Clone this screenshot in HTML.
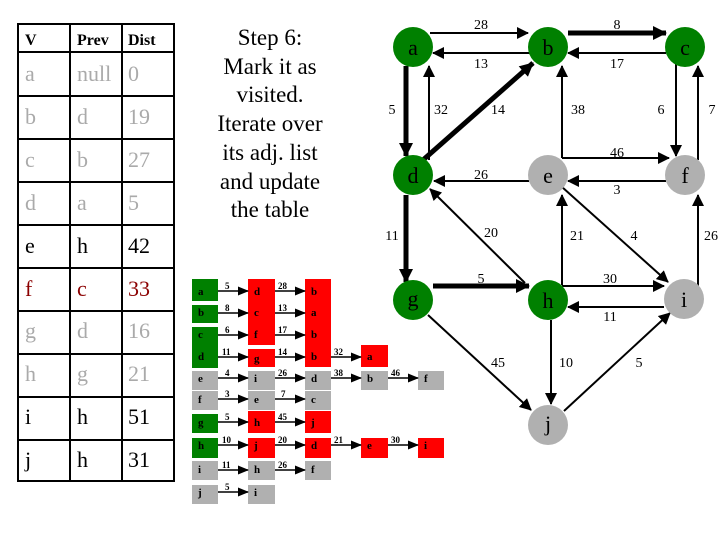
<!DOCTYPE html>
<html><head><meta charset="utf-8"><style>
body{margin:0;background:#fff;width:720px;height:540px;overflow:hidden}
svg{display:block}
text{font-family:"Liberation Serif",serif}
</style></head><body>
<svg width="720" height="540" viewBox="0 0 720 540" xmlns="http://www.w3.org/2000/svg">
<defs>
<marker id="ah" markerWidth="12" markerHeight="12" refX="11" refY="6" orient="auto" markerUnits="userSpaceOnUse"><path d="M0,0 L12,6 L0,12 z" fill="#000"/></marker>
<marker id="ahb" markerWidth="14" markerHeight="14" refX="13" refY="7" orient="auto" markerUnits="userSpaceOnUse"><path d="M0,0 L14,7 L0,14 z" fill="#000"/></marker>
<marker id="as" markerWidth="11" markerHeight="9" refX="10" refY="4.5" orient="auto" markerUnits="userSpaceOnUse"><path d="M0,0 L11,4.5 L0,9 z" fill="#000"/></marker>
</defs>

<!-- Table -->
<g stroke="#000" stroke-width="2" fill="none">
<rect x="18" y="24" width="156" height="457"/>
<line x1="70" y1="24" x2="70" y2="481"/><line x1="122" y1="24" x2="122" y2="481"/>
<line x1="18" y1="52" x2="174" y2="52"/><line x1="18" y1="96" x2="174" y2="96"/>
<line x1="18" y1="139" x2="174" y2="139"/><line x1="18" y1="182" x2="174" y2="182"/>
<line x1="18" y1="225" x2="174" y2="225"/><line x1="18" y1="268" x2="174" y2="268"/>
<line x1="18" y1="311" x2="174" y2="311"/><line x1="18" y1="354" x2="174" y2="354"/>
<line x1="18" y1="397" x2="174" y2="397"/><line x1="18" y1="440" x2="174" y2="440"/>
</g>
<g font-size="16" font-weight="bold"><text x="25" y="45">V</text><text x="77" y="45">Prev</text><text x="128" y="45">Dist</text></g>
<g font-size="22">
<g fill="#aaa"><text x="25" y="81">a</text><text x="77" y="81">null</text><text x="128" y="81">0</text>
<text x="25" y="124">b</text><text x="77" y="124">d</text><text x="128" y="124">19</text>
<text x="25" y="167">c</text><text x="77" y="167">b</text><text x="128" y="167">27</text>
<text x="25" y="210">d</text><text x="77" y="210">a</text><text x="128" y="210">5</text>
<text x="25" y="338">g</text><text x="77" y="338">d</text><text x="128" y="338">16</text>
<text x="25" y="381">h</text><text x="77" y="381">g</text><text x="128" y="381">21</text></g>
<text x="25" y="253">e</text><text x="77" y="253">h</text><text x="128" y="253">42</text>
<g fill="#8b0000"><text x="25" y="296">f</text><text x="77" y="296">c</text><text x="128" y="296">33</text></g>
<text x="25" y="424">i</text><text x="77" y="424">h</text><text x="128" y="424">51</text>
<text x="25" y="467">j</text><text x="77" y="467">h</text><text x="128" y="467">31</text>
</g>

<!-- Step text -->
<g font-size="23" text-anchor="middle">
<text x="270" y="45">Step 6:</text><text x="270" y="74">Mark it as</text><text x="270" y="102">visited.</text>
<text x="270" y="131">Iterate over</text><text x="270" y="160">its adj. list</text>
<text x="270" y="189">and update</text><text x="270" y="217">the table</text>
</g>

<!-- Adjacency list -->
<g>
<rect x="192" y="279" width="26" height="22" fill="#008000"/>
<rect x="192" y="305" width="26" height="18" fill="#008000"/>
<rect x="192" y="327" width="26" height="41" fill="#008000"/>
<rect x="192" y="371" width="26" height="19" fill="#b0b0b0"/>
<rect x="192" y="391" width="26" height="19" fill="#b0b0b0"/>
<rect x="192" y="414" width="26" height="19" fill="#008000"/>
<rect x="192" y="438" width="26" height="20" fill="#008000"/>
<rect x="192" y="461" width="26" height="19" fill="#b0b0b0"/>
<rect x="192" y="485" width="26" height="19" fill="#b0b0b0"/>
<rect x="248" y="279" width="27" height="66" fill="#f00"/>
<rect x="248" y="349" width="27" height="18" fill="#f00"/>
<rect x="248" y="371" width="27" height="19" fill="#b0b0b0"/>
<rect x="248" y="391" width="27" height="19" fill="#b0b0b0"/>
<rect x="248" y="411" width="27" height="22" fill="#f00"/>
<rect x="248" y="438" width="27" height="20" fill="#f00"/>
<rect x="248" y="461" width="27" height="19" fill="#b0b0b0"/>
<rect x="248" y="485" width="27" height="19" fill="#b0b0b0"/>
<rect x="305" y="279" width="26" height="88" fill="#f00"/>
<rect x="305" y="371" width="26" height="19" fill="#b0b0b0"/>
<rect x="305" y="391" width="26" height="19" fill="#b0b0b0"/>
<rect x="305" y="411" width="26" height="22" fill="#f00"/>
<rect x="305" y="438" width="26" height="20" fill="#f00"/>
<rect x="305" y="461" width="26" height="19" fill="#b0b0b0"/>
<rect x="361" y="345" width="27" height="22" fill="#f00"/>
<rect x="361" y="371" width="27" height="19" fill="#b0b0b0"/>
<rect x="361" y="438" width="27" height="20" fill="#f00"/>
<rect x="418" y="371" width="26" height="19" fill="#b0b0b0"/>
<rect x="418" y="438" width="26" height="20" fill="#f00"/>
</g>
<g font-size="11" font-weight="bold">
<text x="198" y="295">a</text><text x="254" y="295">d</text><text x="311" y="295">b</text>
<text x="198" y="316">b</text><text x="254" y="316">c</text><text x="311" y="316">a</text>
<text x="198" y="338">c</text><text x="254" y="338">f</text><text x="311" y="338">b</text>
<text x="198" y="360">d</text><text x="254" y="362">g</text><text x="311" y="360">b</text><text x="367" y="360">a</text>
<text x="198" y="382">e</text><text x="254" y="382">i</text><text x="311" y="382">d</text><text x="367" y="382">b</text><text x="424" y="382">f</text>
<text x="198" y="403">f</text><text x="254" y="403">e</text><text x="311" y="403">c</text>
<text x="198" y="426">g</text><text x="254" y="426">h</text><text x="311" y="426">j</text>
<text x="198" y="449">h</text><text x="254" y="449">j</text><text x="311" y="449">d</text><text x="367" y="449">e</text><text x="424" y="449">i</text>
<text x="198" y="473">i</text><text x="254" y="473">h</text><text x="311" y="473">f</text>
<text x="198" y="496">j</text><text x="254" y="496">i</text>
</g>
<g stroke="#000" stroke-width="1.5" marker-end="url(#as)">
<line x1="218" y1="291" x2="248" y2="291"/><line x1="275" y1="291" x2="305" y2="291"/>
<line x1="218" y1="313" x2="248" y2="313"/><line x1="275" y1="313" x2="305" y2="313"/>
<line x1="218" y1="335" x2="248" y2="335"/><line x1="275" y1="335" x2="305" y2="335"/>
<line x1="218" y1="357" x2="248" y2="357"/><line x1="275" y1="357" x2="305" y2="357"/><line x1="331" y1="357" x2="361" y2="357"/>
<line x1="218" y1="378" x2="248" y2="378"/><line x1="275" y1="378" x2="305" y2="378"/><line x1="331" y1="378" x2="361" y2="378"/><line x1="388" y1="378" x2="418" y2="378"/>
<line x1="218" y1="399" x2="248" y2="399"/><line x1="275" y1="399" x2="305" y2="399"/>
<line x1="218" y1="422" x2="248" y2="422"/><line x1="275" y1="422" x2="305" y2="422"/>
<line x1="218" y1="445" x2="248" y2="445"/><line x1="275" y1="445" x2="305" y2="445"/><line x1="331" y1="445" x2="361" y2="445"/><line x1="388" y1="445" x2="418" y2="445"/>
<line x1="218" y1="470" x2="248" y2="470"/><line x1="275" y1="470" x2="305" y2="470"/>
<line x1="218" y1="492" x2="248" y2="492"/>
</g>
<g font-size="9" font-weight="bold">
<text x="225" y="289">5</text><text x="278" y="289">28</text>
<text x="225" y="311">8</text><text x="278" y="311">13</text>
<text x="225" y="333">6</text><text x="278" y="333">17</text>
<text x="222" y="355">11</text><text x="278" y="355">14</text><text x="334" y="355">32</text>
<text x="225" y="376">4</text><text x="278" y="376">26</text><text x="334" y="376">38</text><text x="391" y="376">46</text>
<text x="225" y="397">3</text><text x="281" y="397">7</text>
<text x="225" y="420">5</text><text x="278" y="420">45</text>
<text x="222" y="443">10</text><text x="278" y="443">20</text><text x="334" y="443">21</text><text x="391" y="443">30</text>
<text x="222" y="468">11</text><text x="278" y="468">26</text>
<text x="225" y="490">5</text>
</g>

<!-- Graph edges -->
<g stroke="#000" stroke-width="2" fill="none" marker-end="url(#ah)">
<line x1="430" y1="33" x2="528" y2="33"/>
<line x1="530" y1="53" x2="433" y2="53"/>
<line x1="666" y1="53" x2="568" y2="53"/>
<line x1="429" y1="160" x2="429" y2="66"/>
<polyline points="562,158 562,66"/>
<line x1="562" y1="158" x2="669" y2="158"/>
<line x1="676" y1="63" x2="676" y2="156"/>
<line x1="698" y1="160" x2="698" y2="66"/>
<line x1="529" y1="181" x2="434" y2="181"/>
<line x1="666" y1="181" x2="568" y2="181"/>
<line x1="525" y1="283" x2="430" y2="189"/>
<line x1="562" y1="285" x2="562" y2="195"/>
<line x1="562" y1="187" x2="668" y2="282"/>
<polyline points="698,286 698,195"/>
<line x1="562" y1="286" x2="664" y2="286"/>
<line x1="664" y1="307" x2="568" y2="307"/>
<line x1="428" y1="315" x2="531" y2="410"/>
<line x1="551" y1="320" x2="551" y2="404"/>
<line x1="564" y1="411" x2="670" y2="313"/>
</g>
<g stroke="#000" stroke-width="5" fill="none" marker-end="url(#ahb)">
<line x1="568" y1="33" x2="666" y2="33"/>
<line x1="406" y1="66" x2="406" y2="156"/>
<line x1="423" y1="160" x2="533" y2="63"/>
<line x1="406" y1="195" x2="406" y2="282"/>
<line x1="433" y1="286" x2="529" y2="286"/>
</g>

<!-- Nodes -->
<g font-size="22" text-anchor="middle">
<circle cx="413" cy="47" r="20" fill="#008000"/><text x="413" y="55">a</text>
<circle cx="548" cy="47" r="20" fill="#008000"/><text x="548" y="55">b</text>
<circle cx="685" cy="47" r="20" fill="#008000"/><text x="685" y="55">c</text>
<circle cx="413" cy="175" r="20" fill="#008000"/><text x="413" y="183">d</text>
<circle cx="548" cy="175" r="20" fill="#b0b0b0"/><text x="548" y="183">e</text>
<circle cx="685" cy="175" r="20" fill="#b0b0b0"/><text x="685" y="183">f</text>
<circle cx="413" cy="300" r="20" fill="#008000"/><text x="413" y="306">g</text>
<circle cx="548" cy="300" r="20" fill="#008000"/><text x="548" y="308">h</text>
<circle cx="684" cy="299" r="20" fill="#b0b0b0"/><text x="684" y="307">i</text>
<circle cx="548" cy="425" r="20" fill="#b0b0b0"/><text x="548" y="431">j</text>
</g>
<g font-size="14" text-anchor="middle">
<text x="481" y="29">28</text><text x="617" y="29">8</text>
<text x="481" y="68">13</text><text x="617" y="68">17</text>
<text x="392" y="114">5</text><text x="441" y="114">32</text><text x="498" y="114">14</text><text x="578" y="114">38</text><text x="661" y="114">6</text><text x="712" y="114">7</text>
<text x="617" y="157">46</text><text x="481" y="179">26</text><text x="617" y="194">3</text>
<text x="392" y="240">11</text><text x="491" y="237">20</text><text x="577" y="240">21</text><text x="634" y="240">4</text><text x="711" y="240">26</text>
<text x="481" y="283">5</text><text x="610" y="283">30</text><text x="610" y="321">11</text>
<text x="498" y="367">45</text><text x="566" y="367">10</text><text x="639" y="367">5</text>
</g>
</svg>
</body></html>
